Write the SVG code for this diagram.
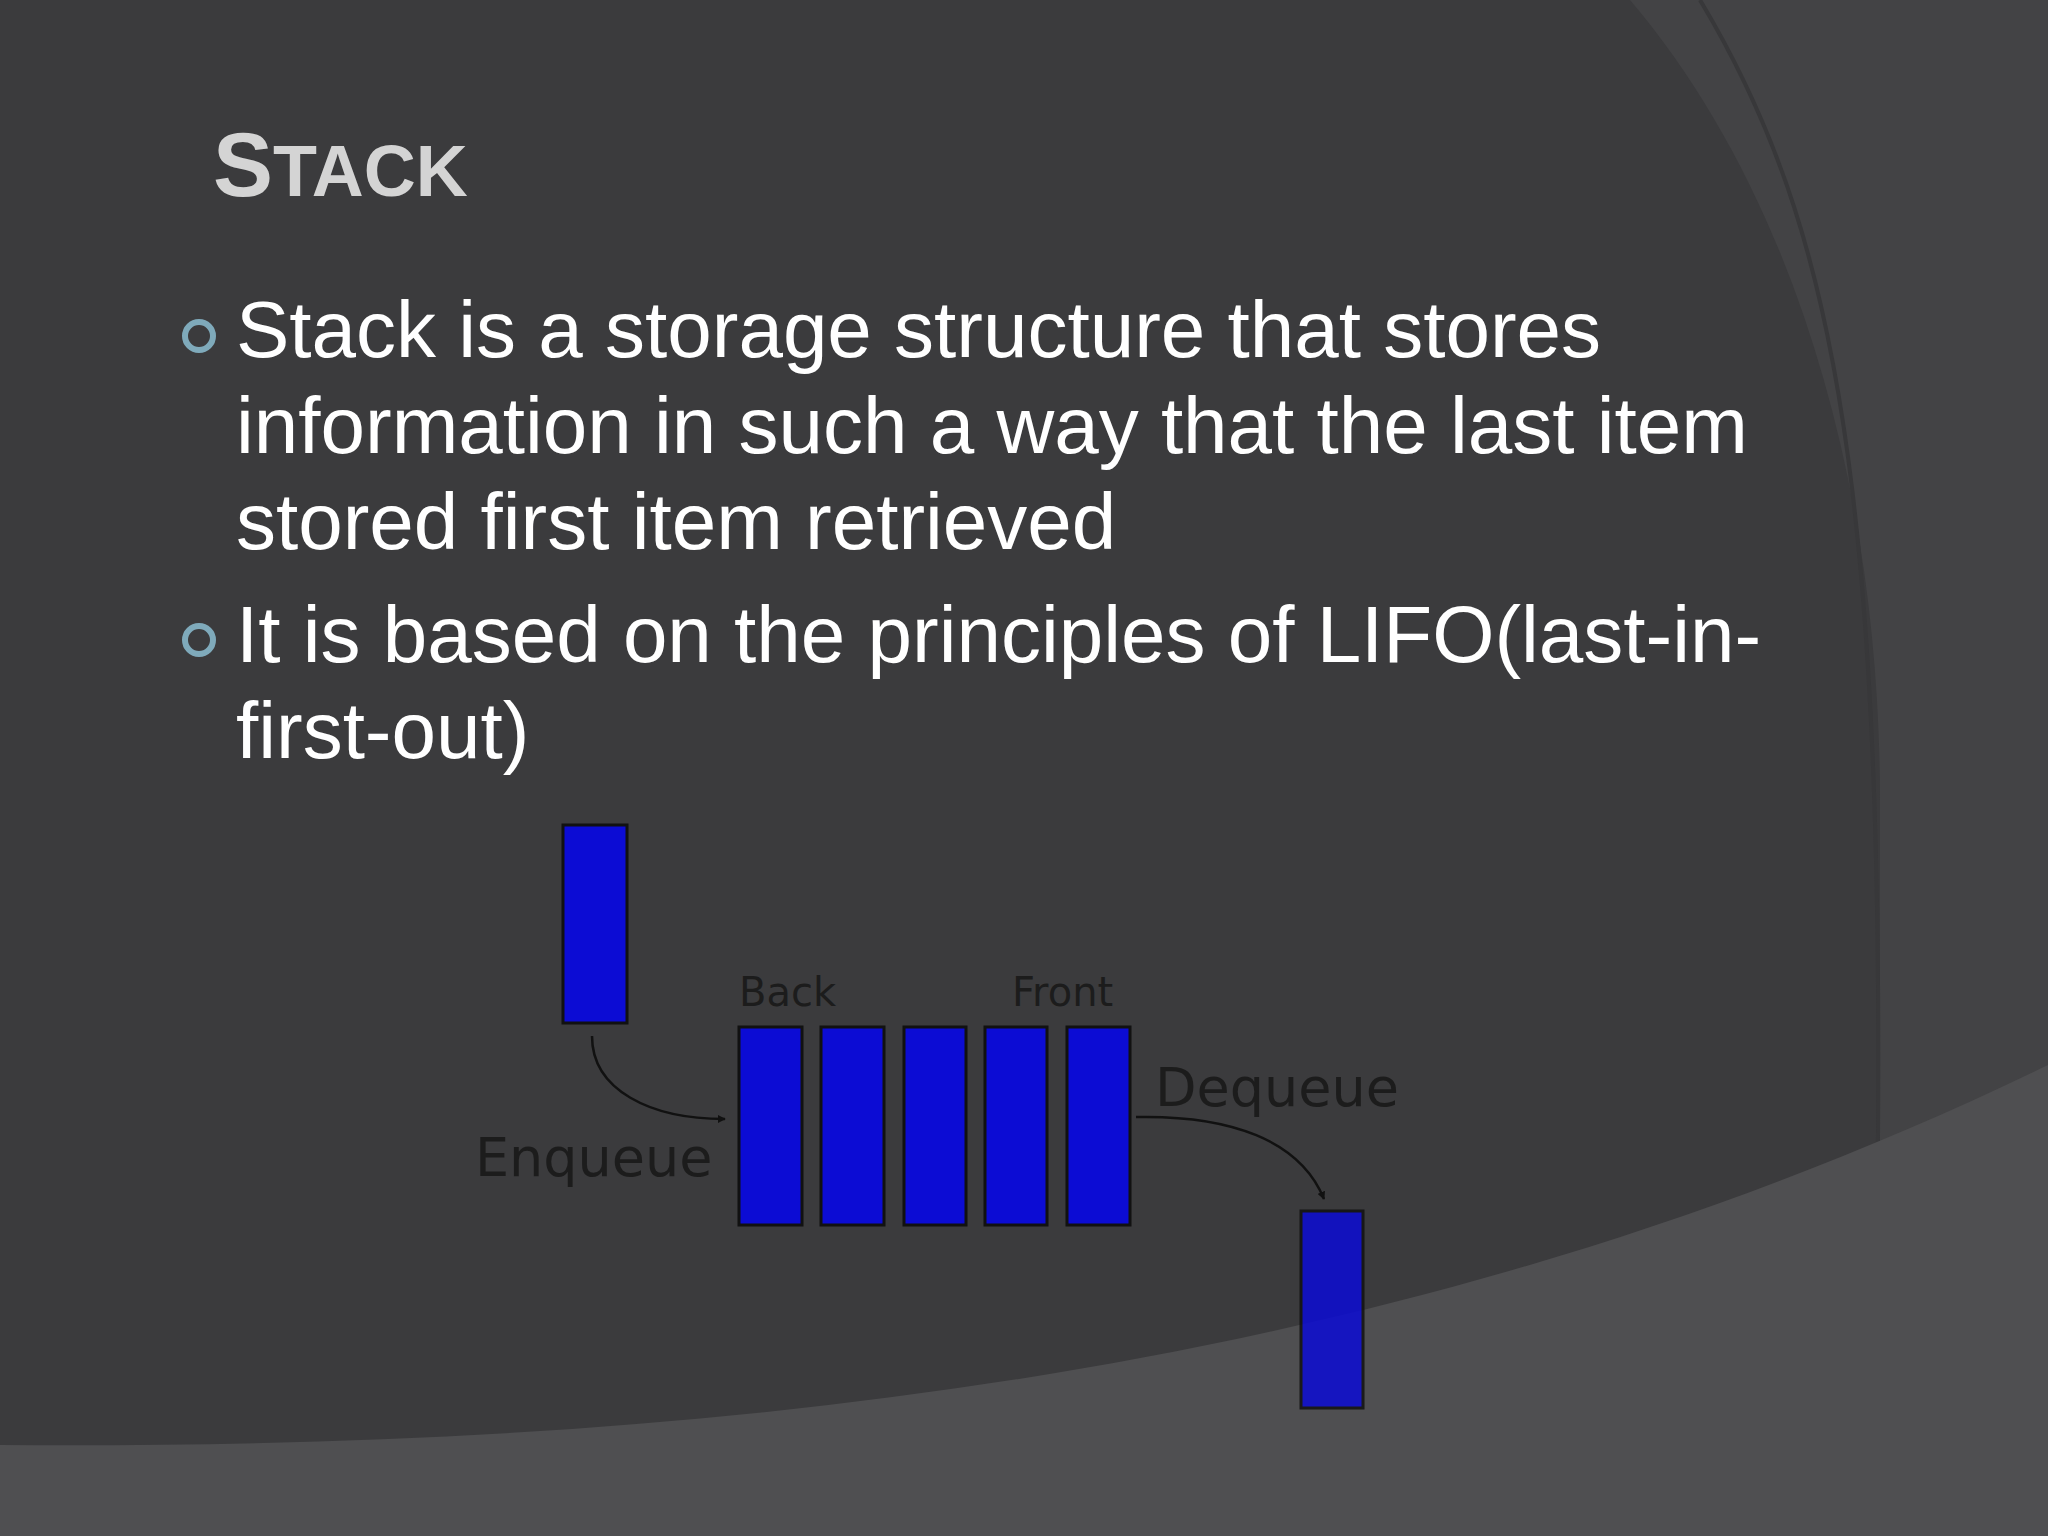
<svg xmlns="http://www.w3.org/2000/svg" width="2048" height="1536" viewBox="0 0 2048 1536">
<defs>
<style>
.b{fill:#0c0cd4;stroke:#111;stroke-width:3}
.t{font-family:"Liberation Sans",Arial,sans-serif;fill:#fff;font-size:80px}
.l{font-family:"DejaVu Sans",sans-serif;fill:#1c1c1c}
.c{fill:none;stroke:#111;stroke-width:2.5}
</style>
<marker id="a" viewBox="0 0 10 10" refX="9" refY="5" markerWidth="8" markerHeight="8" orient="auto" markerUnits="userSpaceOnUse"><path d="M0,0L10,5L0,10z" fill="#111"/></marker>
</defs>
<rect width="2048" height="1536" fill="#3b3b3d"/>
<path d="M1630,0 C1800,200 1880,500 1880,800 L1880,1536 L2048,1536 L2048,0 Z" fill="#434345"/>
<path d="M1700,0 C1850,250 1900,550 1870,1536" fill="none" stroke="#38383a" stroke-width="4"/>
<path d="M0,1445 C700,1450 1400,1380 2048,1065 L2048,1536 L0,1536 Z" fill="#4f4f51"/>
<text x="213" y="196" font-family="Liberation Sans,Arial,sans-serif" font-weight="bold" fill="#d4d4d4" font-size="90">S<tspan font-size="72">TACK</tspan></text>
<g fill="none" stroke="#7faabb" stroke-width="6"><circle cx="199" cy="336" r="14"/><circle cx="199" cy="640" r="14"/></g>
<text class="t" x="236" y="357">Stack is a storage structure that stores</text>
<text class="t" x="236" y="453">information in such a way that the last item</text>
<text class="t" x="236" y="549">stored first item retrieved</text>
<text class="t" x="236" y="662">It is based on the principles of LIFO(last-in-</text>
<text class="t" x="236" y="758">first-out)</text>
<g id="incoming"><rect class="b" x="563" y="825" width="64" height="198"/></g>
<g id="queue">
<rect class="b" x="739" y="1027" width="63" height="198"/>
<rect class="b" x="821" y="1027" width="63" height="198"/>
<rect class="b" x="904" y="1027" width="62" height="198"/>
<rect class="b" x="985" y="1027" width="62" height="198"/>
<rect class="b" x="1067" y="1027" width="63" height="198"/>
</g>
<g id="outgoing"><rect class="b" x="1301" y="1211" width="62" height="197" opacity="0.85"/></g>
<g id="labels">
<text class="l" x="739" y="1006" font-size="40">Back</text>
<text class="l" x="1012" y="1006" font-size="40">Front</text>
<text class="l" x="475" y="1176" font-size="54">Enqueue</text>
<text class="l" x="1155" y="1106" font-size="54">Dequeue</text>
</g>
<g id="connectors">
<path class="c" d="M592,1036 C592,1090 650,1119 725,1119" marker-end="url(#a)"/>
<path class="c" d="M1136,1117 C1230,1115 1300,1140 1324,1199" marker-end="url(#a)"/>
</g>
</svg>
